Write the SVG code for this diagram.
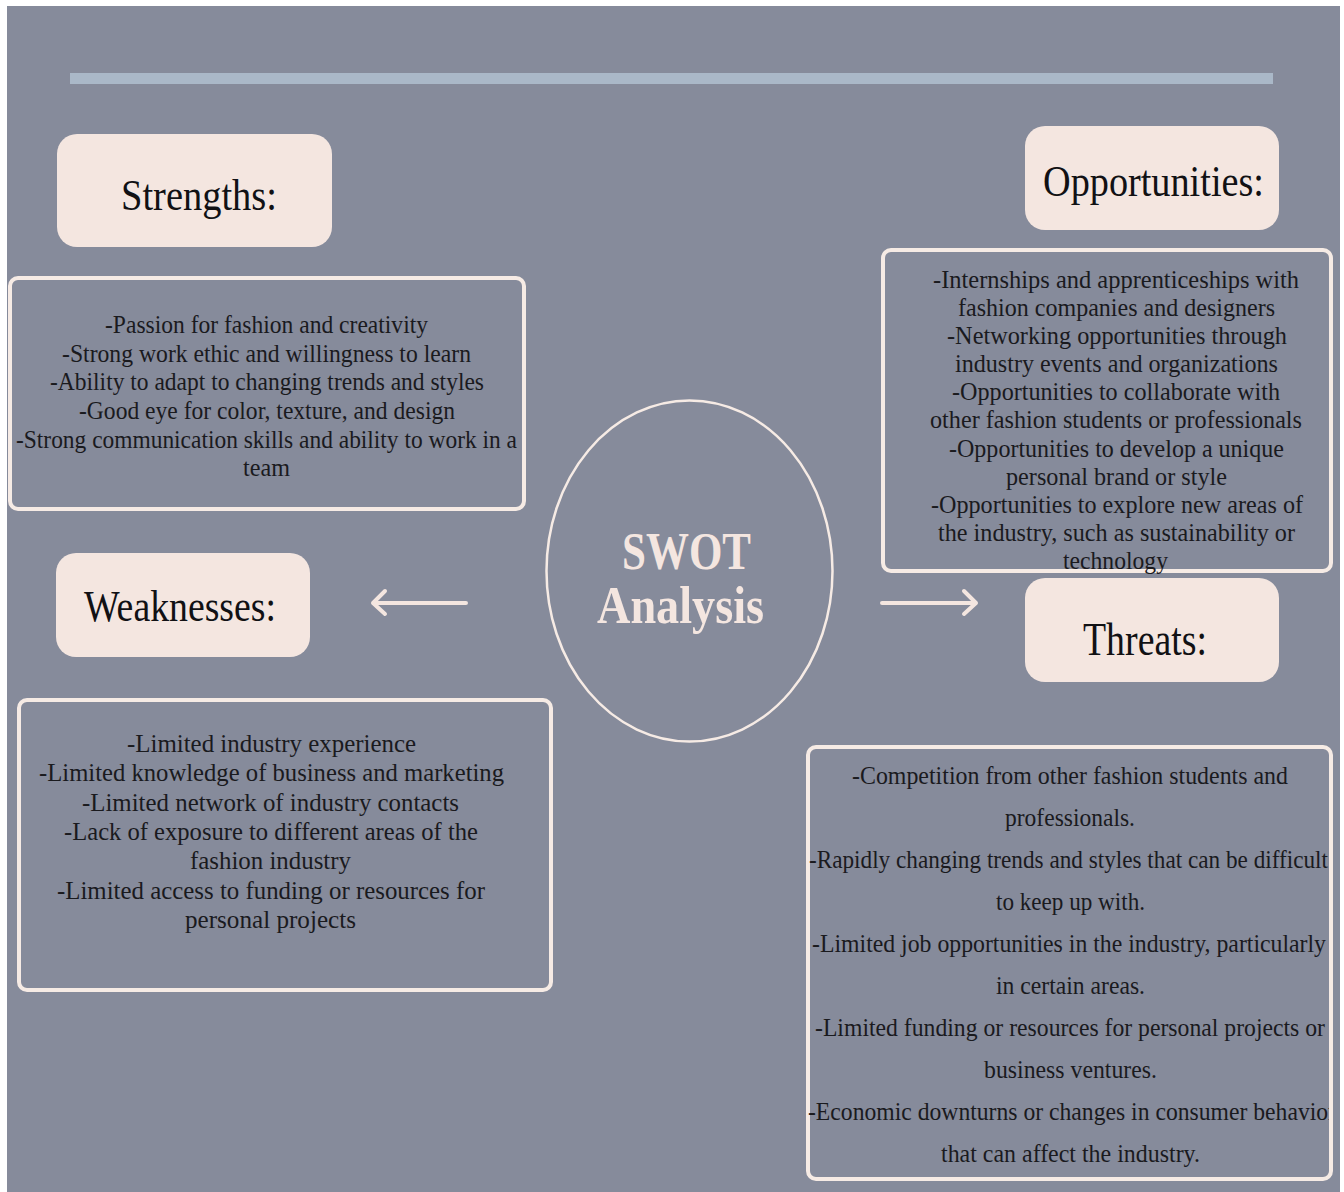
<svg xmlns="http://www.w3.org/2000/svg" width="1344" height="1192" viewBox="0 0 1344 1192">
<style>
.lbl{fill:#f4e6e0;}
.box{fill:none;stroke:#f6ebe5;stroke-width:4;}
.t{font-family:"Liberation Serif","DejaVu Serif",serif;fill:#1a1a1e;}
.c{font-size:25px;}
.c26{font-size:26px;}
.h{font-size:44px;fill:#111114;}
.sw{font-family:"Liberation Serif","DejaVu Serif",serif;font-weight:bold;font-size:52px;fill:#f4e6e0;}
.arr{fill:none;stroke:#f4e6e0;stroke-width:4;stroke-linecap:round;stroke-linejoin:round;}
</style>
<defs>
<clipPath id="clipT"><rect x="806" y="747" width="523" height="432"/></clipPath>
</defs>
<rect x="0" y="0" width="1344" height="1192" fill="#ffffff"/>
<rect x="7" y="6" width="1333" height="1186" fill="#868b9b"/>
<rect x="70" y="73" width="1203" height="11" fill="#aab8c8"/>

<g id="connectors">
<path class="arr" d="M466 603 L373 603 M385 591 L373 603 L385 614"/>
<path class="arr" d="M882 603 L976 603 M964 591 L976 603 L964 614"/>
</g>

<g id="center">
<ellipse cx="689.5" cy="571" rx="143" ry="170.5" fill="none" stroke="#f6ebe5" stroke-width="2.5"/>
<text class="sw" x="622" y="569" textLength="129" lengthAdjust="spacingAndGlyphs">SWOT</text>
<text class="sw" x="597" y="623" textLength="167" lengthAdjust="spacingAndGlyphs">Analysis</text>
</g>

<g id="strengths-label">
<rect class="lbl" x="57" y="134" width="275" height="113" rx="20"/>
<text class="t h" x="121" y="210" textLength="156" lengthAdjust="spacingAndGlyphs">Strengths:</text>
</g>

<g id="strengths">
<rect class="box" x="10" y="278" width="514" height="231" rx="8"/>
<text class="t c" x="105" y="333" textLength="323" lengthAdjust="spacingAndGlyphs">-Passion for fashion and creativity</text>
<text class="t c" x="62" y="362" textLength="409" lengthAdjust="spacingAndGlyphs">-Strong work ethic and willingness to learn</text>
<text class="t c" x="50" y="390" textLength="434" lengthAdjust="spacingAndGlyphs">-Ability to adapt to changing trends and styles</text>
<text class="t c" x="79" y="419" textLength="376" lengthAdjust="spacingAndGlyphs">-Good eye for color, texture, and design</text>
<text class="t c" x="16" y="448" textLength="501" lengthAdjust="spacingAndGlyphs">-Strong communication skills and ability to work in a</text>
<text class="t c" x="243" y="476" textLength="47" lengthAdjust="spacingAndGlyphs">team</text>
</g>

<g id="opportunities-label">
<rect class="lbl" x="1025" y="126" width="254" height="104" rx="20"/>
<text class="t h" x="1043" y="196" textLength="221" lengthAdjust="spacingAndGlyphs">Opportunities:</text>
</g>

<g id="opportunities">
<rect class="box" x="883" y="250" width="448" height="321" rx="8"/>
<text class="t c" x="933" y="288" textLength="366" lengthAdjust="spacingAndGlyphs">-Internships and apprenticeships with</text>
<text class="t c" x="958" y="316" textLength="317" lengthAdjust="spacingAndGlyphs">fashion companies and designers</text>
<text class="t c" x="947" y="344" textLength="340" lengthAdjust="spacingAndGlyphs">-Networking opportunities through</text>
<text class="t c" x="955" y="372" textLength="323" lengthAdjust="spacingAndGlyphs">industry events and organizations</text>
<text class="t c" x="952" y="400" textLength="328" lengthAdjust="spacingAndGlyphs">-Opportunities to collaborate with</text>
<text class="t c" x="930" y="428" textLength="372" lengthAdjust="spacingAndGlyphs">other fashion students or professionals</text>
<text class="t c" x="949" y="457" textLength="335" lengthAdjust="spacingAndGlyphs">-Opportunities to develop a unique</text>
<text class="t c" x="1006" y="485" textLength="221" lengthAdjust="spacingAndGlyphs">personal brand or style</text>
<text class="t c" x="931" y="513" textLength="372" lengthAdjust="spacingAndGlyphs">-Opportunities to explore new areas of</text>
<text class="t c" x="938" y="541" textLength="357" lengthAdjust="spacingAndGlyphs">the industry, such as sustainability or</text>
<text class="t c" x="1063" y="569" textLength="105" lengthAdjust="spacingAndGlyphs">technology</text>
</g>

<g id="weaknesses-label">
<rect class="lbl" x="56" y="553" width="254" height="104" rx="20"/>
<text class="t h" x="84" y="621" textLength="192" lengthAdjust="spacingAndGlyphs">Weaknesses:</text>
</g>

<g id="weaknesses">
<rect class="box" x="19" y="700" width="532" height="290" rx="8"/>
<text class="t c26" x="127" y="752" textLength="289" lengthAdjust="spacingAndGlyphs">-Limited industry experience</text>
<text class="t c26" x="39" y="781" textLength="465" lengthAdjust="spacingAndGlyphs">-Limited knowledge of business and marketing</text>
<text class="t c26" x="82" y="811" textLength="377" lengthAdjust="spacingAndGlyphs">-Limited network of industry contacts</text>
<text class="t c26" x="64" y="840" textLength="414" lengthAdjust="spacingAndGlyphs">-Lack of exposure to different areas of the</text>
<text class="t c26" x="190" y="869" textLength="161" lengthAdjust="spacingAndGlyphs">fashion industry</text>
<text class="t c26" x="57" y="899" textLength="428" lengthAdjust="spacingAndGlyphs">-Limited access to funding or resources for</text>
<text class="t c26" x="185" y="928" textLength="171" lengthAdjust="spacingAndGlyphs">personal projects</text>
</g>

<g id="threats-label">
<rect class="lbl" x="1025" y="578" width="254" height="104" rx="20"/>
<text class="t h" x="1083" y="655" style="font-size:46px" textLength="124" lengthAdjust="spacingAndGlyphs">Threats:</text>
</g>

<g id="threats">
<rect class="box" x="808" y="747" width="523" height="432" rx="8"/>
<text class="t c26" x="852" y="784" textLength="436" lengthAdjust="spacingAndGlyphs">-Competition from other fashion students and</text>
<text class="t c26" x="1005" y="826" textLength="130" lengthAdjust="spacingAndGlyphs">professionals.</text>
<text class="t c26" x="809" y="868" textLength="519" lengthAdjust="spacingAndGlyphs">-Rapidly changing trends and styles that can be difficult</text>
<text class="t c26" x="996" y="910" textLength="149" lengthAdjust="spacingAndGlyphs">to keep up with.</text>
<text class="t c26" x="812" y="952" textLength="514" lengthAdjust="spacingAndGlyphs">-Limited job opportunities in the industry, particularly</text>
<text class="t c26" x="996" y="994" textLength="149" lengthAdjust="spacingAndGlyphs">in certain areas.</text>
<text class="t c26" x="815" y="1036" textLength="510" lengthAdjust="spacingAndGlyphs">-Limited funding or resources for personal projects or</text>
<text class="t c26" x="984" y="1078" textLength="173" lengthAdjust="spacingAndGlyphs">business ventures.</text>
<text class="t c26" x="808" y="1120" textLength="528" lengthAdjust="spacingAndGlyphs" clip-path="url(#clipT)">-Economic downturns or changes in consumer behavior</text>
<text class="t c26" x="941" y="1162" textLength="259" lengthAdjust="spacingAndGlyphs">that can affect the industry.</text>
</g>
</svg>
